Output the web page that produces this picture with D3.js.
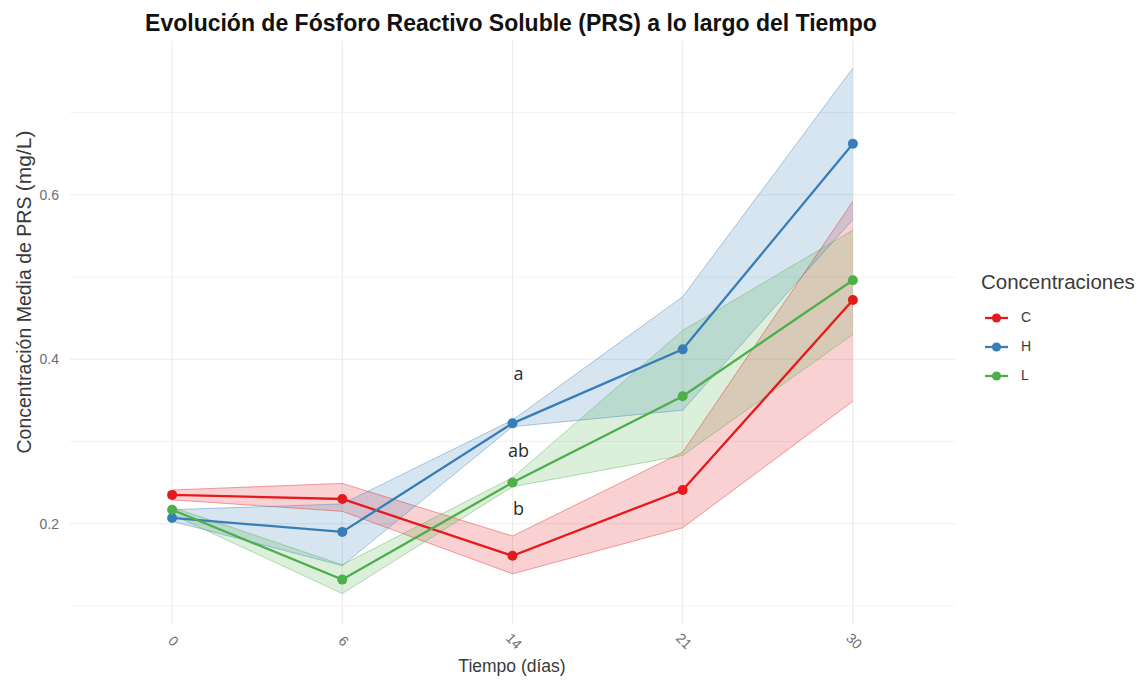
<!DOCTYPE html>
<html>
<head>
<meta charset="utf-8">
<script src="https://cdn.jsdelivr.net/npm/d3@7/dist/d3.min.js"></script>
<style>
  html, body { margin: 0; padding: 0; background: #ffffff; }
  svg { display: block; }
</style>
</head>
<body>
<div id="chart"></div>
<script>
// Sampling days (discrete axis) and treatment groups
const days = ['0', '6', '14', '21', '30'];
const groups = ['C', 'H', 'L'];

// Mean PRS concentration (mg/L) and ribbon bounds per group
const meanC = [0.235, 0.230, 0.161, 0.241, 0.472];
const lowC  = [0.229, 0.215, 0.139, 0.195, 0.349];
const highC = [0.241, 0.249, 0.185, 0.287, 0.592];

const meanH = [0.207, 0.190, 0.322, 0.412, 0.662];
const lowH  = [0.203, 0.149, 0.318, 0.338, 0.570];
const highH = [0.217, 0.224, 0.326, 0.476, 0.754];

const meanL = [0.217, 0.132, 0.250, 0.355, 0.496];
const lowL  = [0.211, 0.115, 0.245, 0.283, 0.430];
const highL = [0.220, 0.150, 0.256, 0.435, 0.557];

// Significance letters at day 14
const letterText = ['a', 'ab', 'b'];
const letterValue = [0.381, 0.287, 0.217];
const letterDay = '14';

// Axis ticks
const yMajorTicks = [0.2, 0.4, 0.6];
const yMinorTicks = [0.1, 0.3, 0.5, 0.7];

const palette = { C: '#E41A1C', H: '#377EB8', L: '#4DAF4A' };

const series = [
  { key: 'C', mean: meanC, low: lowC, high: highC },
  { key: 'H', mean: meanH, low: lowH, high: highH },
  { key: 'L', mean: meanL, low: lowL, high: highL }
];

const W = 1146, H = 681;
const panel = { left: 70, right: 955, top: 41, bottom: 624 };

const svg = d3.select('#chart').append('svg')
  .attr('width', W).attr('height', H)
  .style('font-family', '"Liberation Sans", Arial, sans-serif');

const x = d3.scalePoint().domain(days).range([panel.left, panel.right]).padding(0.6);
const y = d3.scaleLinear().domain([0.078, 0.787]).range([panel.bottom, panel.top]);

// Grid lines
const grid = svg.append('g');
grid.selectAll('.minor').data(yMinorTicks).join('line')
  .attr('x1', panel.left).attr('x2', panel.right)
  .attr('y1', d => y(d)).attr('y2', d => y(d))
  .attr('stroke', '#f1f1f1').attr('stroke-width', 0.9);
grid.selectAll('.major').data(yMajorTicks).join('line')
  .attr('x1', panel.left).attr('x2', panel.right)
  .attr('y1', d => y(d)).attr('y2', d => y(d))
  .attr('stroke', '#ebebeb').attr('stroke-width', 1.1);
grid.selectAll('.vmajor').data(days).join('line')
  .attr('x1', d => x(d)).attr('x2', d => x(d))
  .attr('y1', panel.top).attr('y2', panel.bottom)
  .attr('stroke', '#ebebeb').attr('stroke-width', 1.1);

// Ribbons
const area = d3.area()
  .x((d, i) => x(days[i]))
  .y0(d => y(d[0]))
  .y1(d => y(d[1]));
const edge = d3.line().x((d, i) => x(days[i])).y(d => y(d));

const ribbons = svg.append('g');
series.forEach(s => {
  const band = s.low.map((v, i) => [v, s.high[i]]);
  ribbons.append('path').datum(band)
    .attr('d', area)
    .attr('fill', palette[s.key]).attr('fill-opacity', 0.2);
});
series.forEach(s => {
  [s.low, s.high].forEach(b => {
    ribbons.append('path').datum(b)
      .attr('d', edge)
      .attr('fill', 'none')
      .attr('stroke', palette[s.key]).attr('stroke-opacity', 0.45)
      .attr('stroke-width', 0.9);
  });
});

// Mean lines and points
const line = d3.line().x((d, i) => x(days[i])).y(d => y(d));
const marks = svg.append('g');
series.forEach(s => {
  marks.append('path').datum(s.mean)
    .attr('d', line)
    .attr('fill', 'none')
    .attr('stroke', palette[s.key]).attr('stroke-width', 2.3);
  marks.selectAll(null).data(s.mean).join('circle')
    .attr('cx', (d, i) => x(days[i])).attr('cy', d => y(d))
    .attr('r', 5).attr('fill', palette[s.key]);
});

// Significance letters
svg.append('g').selectAll('text').data(letterText).join('text')
  .attr('x', x(letterDay) + 6)
  .attr('y', (d, i) => y(letterValue[i]))
  .attr('text-anchor', 'middle')
  .attr('dominant-baseline', 'middle')
  .attr('font-family', '"Open Sans", "DejaVu Sans", sans-serif')
  .attr('font-size', 18)
  .attr('fill', '#2b2b2b')
  .text(d => d);

// Y axis
const yAxis = svg.append('g')
  .attr('transform', `translate(${panel.left},0)`)
  .call(d3.axisLeft(y).tickValues(yMajorTicks).tickSize(0).tickPadding(11).tickFormat(d3.format('.1f')));
yAxis.select('.domain').remove();
yAxis.selectAll('text')
  .attr('font-family', '"Liberation Sans", Arial, sans-serif')
  .attr('font-size', 14).attr('fill', '#6e6e6e');

// X axis
const xAxis = svg.append('g')
  .attr('transform', `translate(0,${panel.bottom})`)
  .call(d3.axisBottom(x).tickSize(0).tickPadding(0));
xAxis.select('.domain').remove();
xAxis.selectAll('text')
  .attr('font-family', '"Liberation Sans", Arial, sans-serif')
  .attr('font-size', 14).attr('fill', '#6e6e6e')
  .attr('text-anchor', 'middle')
  .attr('dy', null).attr('y', null)
  .attr('dominant-baseline', 'middle')
  .attr('transform', 'translate(0,18) rotate(45)');

// Titles
svg.append('text')
  .attr('x', 511).attr('y', 31)
  .attr('text-anchor', 'middle')
  .attr('font-weight', 'bold').attr('font-size', 23)
  .attr('fill', '#111')
  .text('Evolución de Fósforo Reactivo Soluble (PRS) a lo largo del Tiempo');

svg.append('text')
  .attr('x', 512).attr('y', 672)
  .attr('text-anchor', 'middle')
  .attr('font-size', 17.5).attr('fill', '#3a3a3a')
  .text('Tiempo (días)');

const yTitle = svg.append('text')
  .attr('transform', 'translate(31,292) rotate(-90)')
  .attr('text-anchor', 'middle')
  .attr('font-size', 19.5).attr('fill', '#3a3a3a');
yTitle.append('tspan').text('Concentración Media de PRS ');
yTitle.append('tspan').attr('font-size', 21).text('(mg/L)');

// Legend
const legend = svg.append('g').attr('transform', 'translate(981,0)');
legend.append('text')
  .attr('x', 0).attr('y', 289)
  .attr('font-size', 20.5).attr('fill', '#3a3a3a')
  .text('Concentraciones');
const keyY = d3.scalePoint().domain(groups).range([318, 376]);
const keys = legend.selectAll('.key').data(groups).join('g')
  .attr('transform', d => `translate(4,${keyY(d)})`);
keys.append('line')
  .attr('x1', 0).attr('x2', 23).attr('y1', 0).attr('y2', 0)
  .attr('stroke', d => palette[d]).attr('stroke-width', 2.3);
keys.append('circle')
  .attr('cx', 11.5).attr('cy', 0).attr('r', 4.6)
  .attr('fill', d => palette[d]);
keys.append('text')
  .attr('x', 36).attr('y', 0)
  .attr('dominant-baseline', 'middle')
  .attr('font-size', 14).attr('fill', '#3a3a3a')
  .text(d => d);
</script>
</body>
</html>
